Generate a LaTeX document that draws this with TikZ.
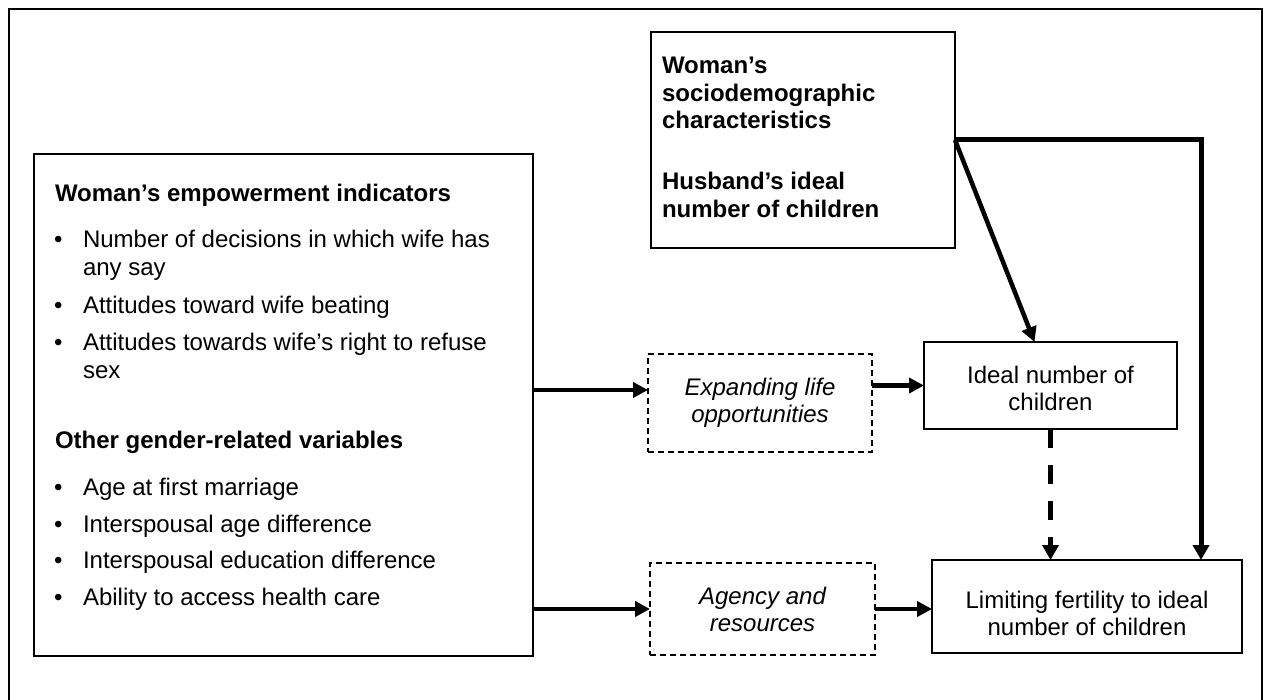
\documentclass[tikz,border=0pt]{standalone}
\usepackage{fontspec}
\setmainfont{Liberation Sans}
\usetikzlibrary{arrows.meta,calc}
\begin{document}
\begin{tikzpicture}[x=1pt,y=-1pt,
  every node/.style={inner sep=0pt, outer sep=0pt},
  txt/.style={font=\fontsize{24}{27.5}\selectfont, anchor=base west},
  txtb/.style={font=\fontsize{24}{27.5}\selectfont\bfseries, anchor=base west},
  ctxt/.style={font=\fontsize{24}{27.5}\selectfont, anchor=base},
  ctxti/.style={font=\fontsize{24}{27.5}\selectfont\itshape, anchor=base},
  box/.style={draw, line width=1.6pt},
  dbox/.style={draw, line width=1.3pt, dash pattern=on 6pt off 4pt},
  arr/.style={line width=4.5pt, -{Triangle[length=15pt,width=15pt]}},
  thickarr/.style={line width=5pt, -{Triangle[length=15pt,width=16pt]}},
]
\useasboundingbox (0,0) rectangle (1265,700);
\draw[line width=2pt] (9,703) -- (9,9) -- (1262,9) -- (1262,703);

% boxes
\node[box, minimum width=499pt, minimum height=502pt] (left) at (283.5,405) {};
\node[box, minimum width=304pt, minimum height=216pt] (soc) at (803,140) {};
\node[box, minimum width=253pt, minimum height=87pt] (ideal) at (1050.5,385.5) {};
\node[box, minimum width=310pt, minimum height=93pt] (lim) at (1087,606.5) {};
\node[dbox, minimum width=224pt, minimum height=98pt] (exp) at (760,403) {};
\node[dbox, minimum width=225pt, minimum height=92pt] (agy) at (762.5,609) {};

% left box text
\node[txtb] (h1) at (55,202) {Woman’s empowerment indicators};
\node[txt] (b1) at (54,248) {•};
\node[txt] (i1) at (83,248) {Number of decisions in which wife has};
\node[txt] (i1b) at (83,276) {any say};
\node[txt] (b2) at (54,313) {•};
\node[txt] (i2) at (83,313) {Attitudes toward wife beating};
\node[txt] (b3) at (54,350) {•};
\node[txt] (i3) at (83,350) {Attitudes towards wife’s right to refuse};
\node[txt] (i3b) at (83,378) {sex};
\node[txtb] (h2) at (55,448) {Other gender-related variables};
\node[txt] (b4) at (54,495) {•};
\node[txt] (i4) at (83,495) {Age at first marriage};
\node[txt] (b5) at (54,532) {•};
\node[txt] (i5) at (83,532) {Interspousal age difference};
\node[txt] (b6) at (54,568) {•};
\node[txt] (i6) at (83,568) {Interspousal education difference};
\node[txt] (b7) at (54,605) {•};
\node[txt] (i7) at (83,605) {Ability to access health care};

% top right box text
\node[txtb] (s1) at (662,74) {Woman’s};
\node[txtb] (s2) at (662,101.5) {sociodemographic};
\node[txtb] (s3) at (662,129) {characteristics};
\node[txtb] (s4) at (662,190) {Husband’s ideal};
\node[txtb] (s5) at (662,218) {number of children};

% centred texts
\node[ctxti] (e1) at (760,395) {Expanding life};
\node[ctxti] (e2) at (760,422) {opportunities};
\node[ctxti] (g1) at (762.5,604) {Agency and};
\node[ctxti] (g2) at (762.5,631) {resources};
\node[ctxt] (n1) at (1050.5,383) {Ideal number of};
\node[ctxt] (n2) at (1050.5,410) {children};
\node[ctxt] (l1) at (1087,608) {Limiting fertility to ideal};
\node[ctxt] (l2) at (1087,635) {number of children};

% connectors
\coordinate (a1) at ([yshift=13pt]exp.west);
\draw[arr] (left.east |- a1) -- (a1);
\draw[arr] (left.east |- agy.west) -- (agy.west);
\draw[arr] (exp.east |- ideal.west) -- (ideal.west);
\draw[arr] (agy.east) -- (agy.east -| lim.west);
\coordinate (d1) at ([xshift=-16pt]ideal.north);
\draw[arr] (soc.east) -- (d1);
\coordinate (r1) at ([xshift=-41pt]lim.north east);
\draw[thickarr] (soc.east) -| (r1);
\draw[thickarr, dash pattern=on 19pt off 17pt] (ideal.south) -- (ideal.south |- lim.north);
\end{tikzpicture}
\end{document}
